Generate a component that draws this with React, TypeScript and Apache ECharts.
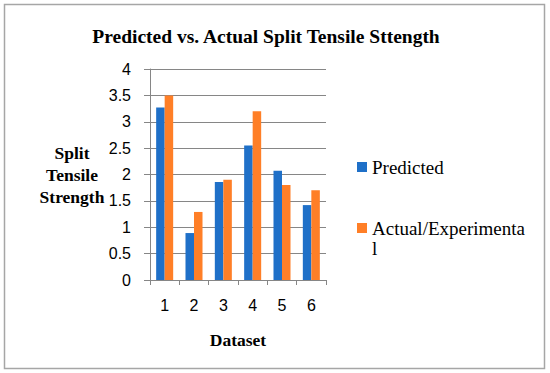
import React, { useEffect, useRef } from "react";
import * as echarts from "echarts";

const categories = ["1", "2", "3", "4", "5", "6"];
const predicted = [3.27, 0.89, 1.86, 2.55, 2.07, 1.42];
const actual = [3.5, 1.29, 1.9, 3.2, 1.8, 1.7];
const seriesNames = ["Predicted", "Actual/Experimental"];
const yTicks = { min: 0, max: 4, interval: 0.5 };

const SERIF = "'Liberation Serif', 'DejaVu Serif', serif";
const SANS = "'Liberation Sans', 'Open Sans', sans-serif";

export default function App() {
  const ref = useRef<HTMLDivElement>(null);
  useEffect(() => {
    if (!ref.current) return;
    const chart = echarts.init(ref.current, undefined, { renderer: "svg" });
    chart.setOption({
      animation: false,
      backgroundColor: "#ffffff",
      title: {
        text: "Predicted vs. Actual Split Tensile Sttength",
        left: 261,
        top: 21,
        textAlign: "center",
        textStyle: { fontFamily: SERIF, fontWeight: "bold", fontSize: 19.5, color: "#000" },
      },
      grid: { left: 150, right: 224, top: 69, bottom: 93, containLabel: false },
      legend: {
        orient: "vertical",
        left: 357,
        top: 157,
        padding: 0,
        itemWidth: 10,
        itemHeight: 10,
        itemGap: 21,
        icon: "rect",
        textStyle: { fontFamily: SERIF, fontSize: 19, color: "#000", lineHeight: 20 },
        formatter: (name: string) =>
          name === "Actual/Experimental" ? "\nActual/Experimenta\nl" : name,
        data: seriesNames,
      },
      xAxis: {
        type: "category",
        data: categories,
        name: "Dataset",
        nameLocation: "middle",
        nameGap: 51,
        nameTextStyle: { fontFamily: SERIF, fontWeight: "bold", fontSize: 17.5, color: "#000" },
        axisLine: { lineStyle: { color: "#868686", width: 1 } },
        axisTick: { show: true, length: 5, alignWithLabel: false, lineStyle: { color: "#868686" } },
        axisLabel: { fontFamily: SANS, fontSize: 16, color: "#000", margin: 17 },
      },
      yAxis: {
        type: "value",
        min: yTicks.min,
        max: yTicks.max,
        interval: yTicks.interval,
        axisLine: { show: true, lineStyle: { color: "#868686", width: 1 } },
        axisTick: { show: true, length: 6, lineStyle: { color: "#868686" } },
        axisLabel: { fontFamily: SANS, fontSize: 16, color: "#000", margin: 19 },
        splitLine: { show: true, lineStyle: { color: "#868686", width: 1 } },
      },
      series: [
        {
          name: seriesNames[0],
          type: "bar",
          data: predicted,
          itemStyle: { color: "#1F70C8" },
          barGap: "0%",
          barCategoryGap: "42%",
        },
        {
          name: seriesNames[1],
          type: "bar",
          data: actual,
          itemStyle: { color: "#FF7F27" },
          barGap: "0%",
          barCategoryGap: "42%",
        },
      ],
      graphic: [
        {
          type: "rect",
          shape: { x: 4.5, y: 4.5, width: 540, height: 364 },
          style: { fill: "none", stroke: "#a6a6a6", lineWidth: 1.5 },
          silent: true,
        },
        {
          type: "text",
          x: 72,
          y: 175,
          style: {
            text: "Split\nTensile\nStrength",
            fontFamily: SERIF,
            fontWeight: "bold",
            fontSize: 17.5,
            lineHeight: 22,
            fill: "#000",
            align: "center",
            verticalAlign: "middle",
          },
        },
      ],
    });
    return () => chart.dispose();
  }, []);
  return (
    <div
      ref={ref}
      style={{ position: "absolute", left: 0, top: 0, width: 550, height: 373 }}
    />
  );
}
